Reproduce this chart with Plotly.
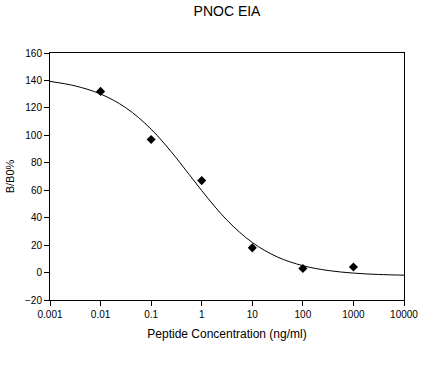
import plotly.graph_objects as go

# Measured points
conc = [0.01, 0.1, 1, 10, 100, 1000]
bb0 = [132, 97, 67, 18, 3, 4]

# Fitted curve at half-decade steps
curve_x = [0.001, 0.00316, 0.01, 0.0316, 0.1, 0.316, 1, 3.16, 10, 31.6, 100, 316, 1000, 3162, 10000]
curve_y = [139.3, 136.0, 130.1, 120.1, 104.5, 83.4, 59.7, 38.2, 21.9, 11.3, 5.0, 1.5, -0.4, -1.4, -1.9]

x_ticks = [0.001, 0.01, 0.1, 1, 10, 100, 1000, 10000]
x_tick_labels = ["0.001", "0.01", "0.1", "1", "10", "100", "1000", "10000"]
y_ticks = [-20, 0, 20, 40, 60, 80, 100, 120, 140, 160]

fig = go.Figure()
fig.add_trace(go.Scatter(x=curve_x, y=curve_y, mode="lines",
                         line=dict(color="black", width=1, shape="spline"),
                         showlegend=False, hoverinfo="skip"))
fig.add_trace(go.Scatter(x=conc, y=bb0, mode="markers",
                         marker=dict(symbol="diamond", color="black", size=7),
                         showlegend=False))

font = "Liberation Sans, Arial, sans-serif"
fig.update_layout(
    width=438, height=384,
    margin=dict(l=50, r=34, t=53, b=84),
    paper_bgcolor="white", plot_bgcolor="white",
    font=dict(family=font, color="black", size=10),
    title=dict(text="PNOC EIA", x=(50 + 404) / 2 / 438, xanchor="center",
               y=1 - 11 / 384, yanchor="middle", font=dict(size=14, color="black")),
)
fig.update_xaxes(type="log", range=[-3, 4], tickvals=x_ticks, ticktext=x_tick_labels,
                 ticks="outside", ticklen=5, tickcolor="black", showline=True,
                 linecolor="black", linewidth=1, mirror=True, showgrid=False, zeroline=False,
                 tickfont=dict(size=10), automargin=False,
                 title=dict(text="Peptide Concentration (ng/ml)", font=dict(size=12), standoff=10))
fig.update_yaxes(range=[-20, 160], tickvals=y_ticks,
                 ticks="outside", ticklen=5, tickcolor="black", showline=True,
                 linecolor="black", linewidth=1, mirror=True, showgrid=False, zeroline=False,
                 tickfont=dict(size=10), automargin=False,
                 title=dict(text="B/B0%", font=dict(size=11), standoff=8))

fig.write_html("out.html", config={"displayModeBar": False},
               post_script="document.body.style.margin='0';")
